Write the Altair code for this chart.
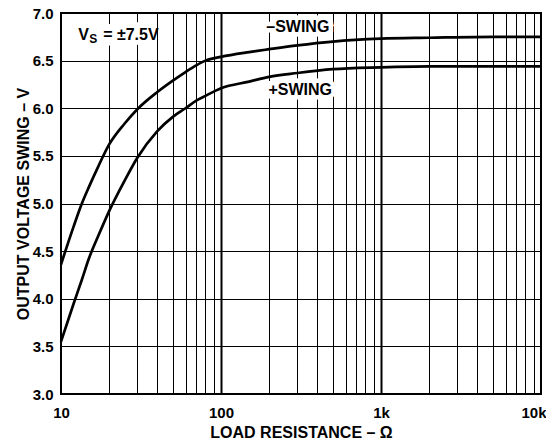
import altair as alt
import pandas as pd

# ---- data ----
resistance = [10, 12, 13.5, 15, 17, 20, 25, 30, 40, 50, 60, 70, 80, 100,
              150, 200, 300, 500, 1000, 2000, 5000, 10000]
neg_swing = [4.36, 4.76, 5.00, 5.18, 5.38, 5.62, 5.84, 5.99, 6.17, 6.29, 6.38,
             6.45, 6.50, 6.54, 6.59, 6.62, 6.66, 6.70, 6.73, 6.74, 6.75, 6.75]
pos_swing = [3.55, 3.95, 4.20, 4.43, 4.65, 4.92, 5.24, 5.48, 5.76, 5.91, 6.00,
             6.08, 6.13, 6.21, 6.28, 6.33, 6.37, 6.41, 6.43, 6.44, 6.44, 6.44]

x_grid_values = [10, 20, 30, 40, 50, 60, 70, 80, 90,
                 100, 200, 300, 400, 500, 600, 700, 800, 900,
                 1000, 2000, 3000, 4000, 5000, 6000, 7000, 8000, 9000, 10000]
y_grid_values = [3.0, 3.5, 4.0, 4.5, 5.0, 5.5, 6.0, 6.5, 7.0]

label_text = ["\u2013SWING", "+SWING"]
label_r = [302, 313]
label_v = [6.85, 6.19]

vs_text = ["V", "S", "= \u00b17.5V"]

FONT = "Liberation Sans"

rows = []
for r, n, p in zip(resistance, neg_swing, pos_swing):
    rows.append({"R": r, "V": n, "series": "-SWING"})
    rows.append({"R": r, "V": p, "series": "+SWING"})
df = pd.DataFrame(rows)

labels_df = pd.DataFrame({"R": label_r, "V": label_v, "text": label_text})
vs_df = pd.DataFrame({"R": [12.8], "V": [6.77]})

x_scale = alt.Scale(type="log", domain=[10, 10000], nice=False)
y_scale = alt.Scale(domain=[3, 7], nice=False, zero=False)

x_axis = alt.Axis(
    values=x_grid_values,
    labelExpr="datum.value == 10 ? '10' : datum.value == 100 ? '100' : datum.value == 1000 ? '1k' : datum.value == 10000 ? '10k' : ''",
    title="LOAD RESISTANCE \u2013 \u03a9",
    ticks=False, domain=False, labelOverlap=False, labelFlush=False, labelBound=False,
    labelAlign={"condition": {"test": "datum.value == 10000", "value": "right"}, "value": "center"},
    labelOffset={"condition": {"test": "datum.value == 10000", "value": 5}, "value": 0},
    labelPadding=11, titlePadding=4,
    gridWidth={"condition": {"test": "datum.value == 100 || datum.value == 1000", "value": 2}, "value": 1},
)
y_axis = alt.Axis(
    values=y_grid_values, format=".1f",
    title="OUTPUT VOLTAGE SWING \u2013 V",
    ticks=False, domain=False, labelOverlap=False, labelFlush=False,
    labelPadding=8, titlePadding=1,
)

lines = alt.Chart(df).mark_line(
    color="black", strokeWidth=2.7, interpolate="monotone"
).encode(
    x=alt.X("R:Q", scale=x_scale, axis=x_axis),
    y=alt.Y("V:Q", scale=y_scale, axis=y_axis),
    detail="series:N",
)

base_lab = alt.Chart(labels_df).encode(
    x=alt.X("R:Q", scale=x_scale),
    y=alt.Y("V:Q", scale=y_scale),
    text="text:N",
)
halo = base_lab.mark_text(font=FONT, fontSize=16, fontWeight="bold",
                          stroke="white", strokeWidth=9, color="white")
labs = base_lab.mark_text(font=FONT, fontSize=16, fontWeight="bold", color="black")

vs_base = alt.Chart(vs_df).encode(
    x=alt.X("R:Q", scale=x_scale), y=alt.Y("V:Q", scale=y_scale)
)
vs_halo = vs_base.mark_text(
    font=FONT, fontSize=16, fontWeight="bold", align="left",
    stroke="white", strokeWidth=11, color="white",
    text=vs_text[0] + "   " + vs_text[2],
)
vs_v = vs_base.mark_text(font=FONT, fontSize=16, fontWeight="bold",
                         align="left", color="black", text=vs_text[0])
vs_s = vs_base.mark_text(font=FONT, fontSize=12, fontWeight="bold",
                         align="left", color="black", text=vs_text[1], dx=11, dy=4)
vs_rest = vs_base.mark_text(font=FONT, fontSize=16, fontWeight="bold",
                            align="left", color="black", text=vs_text[2], dx=25)

chart = alt.layer(lines, halo, labs, vs_halo, vs_v, vs_s, vs_rest).properties(
    width=480, height=381,
    autosize=alt.AutoSizeParams(type="none"),
    padding={"left": 53, "top": 5, "right": 5, "bottom": 50},
).configure_view(
    stroke="black", strokeWidth=2
).configure_axis(
    grid=True, gridColor="black", gridOpacity=1,
    labelFont=FONT, labelFontSize=15, labelFontWeight="bold", labelColor="black",
    titleFont=FONT, titleFontSize=16, titleFontWeight="bold", titleColor="black",
)

chart.save("out.html", embed_options={"renderer": "svg", "actions": False})
